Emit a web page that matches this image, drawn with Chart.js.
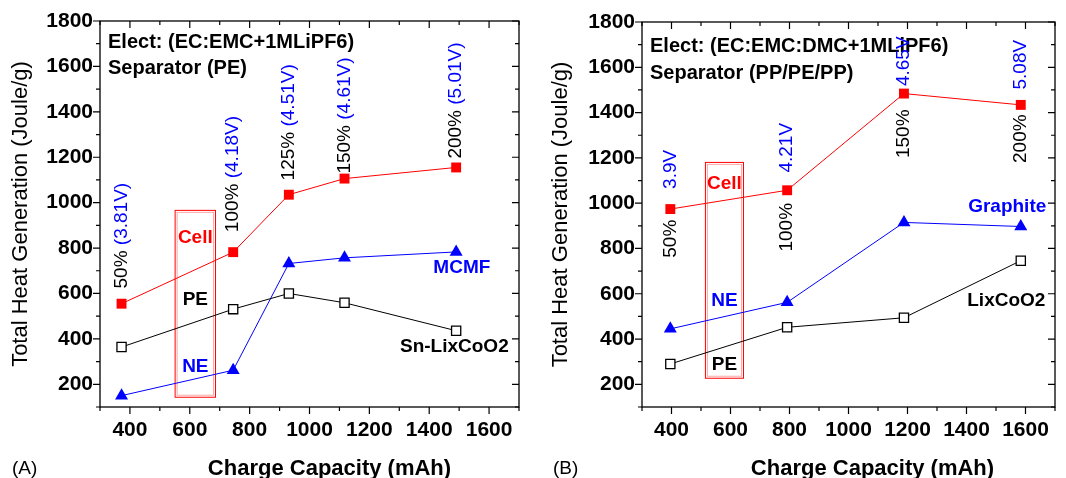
<!DOCTYPE html>
<html>
<head>
<meta charset="utf-8">
<title>Total heat generation vs charge capacity</title>
<script src="https://cdn.jsdelivr.net/npm/chart.js@4.4.1/dist/chart.umd.min.js"></script>
<style>
  html, body { margin: 0; padding: 0; background: #fff; }
  #wrap { position: relative; width: 1066px; height: 478px; overflow: hidden; }
  #chartA { position: absolute; left: 0; top: 0; }
  #chartB { position: absolute; left: 530px; top: 0; }
</style>
</head>
<body>
<div id="wrap">
  <canvas id="chartA" width="530" height="478"></canvas>
  <canvas id="chartB" width="536" height="478"></canvas>
</div>
<script>
(function () {
  "use strict";

  // ============================================================
  // Data
  // ============================================================
  const xTickLabels = [400, 600, 800, 1000, 1200, 1400, 1600];
  const yTickLabels = [200, 400, 600, 800, 1000, 1200, 1400, 1600, 1800];

  // (A) EC:EMC+1MLiPF6, PE separator
  const capacityA = [372, 745, 931, 1117, 1490];
  const cellA = [555, 782, 1035, 1106, 1155];
  const peA = [364, 531, 600, 559, 436];
  const neA = [150, 262, 732, 757, 783];
  const chargeA = ["50%", "100%", "125%", "150%", "200%"];
  const voltsA = ["(3.81V)", "(4.18V)", "(4.51V)", "(4.61V)", "(5.01V)"];

  // (B) EC:EMC:DMC+1MLiPF6, PP/PE/PP separator
  const capacityB = [396, 792, 1188, 1584];
  const cellB = [974, 1057, 1484, 1434];
  const neB = [445, 562, 915, 897];
  const peB = [290, 452, 494, 746];
  const chargeB = ["50%", "100%", "150%", "200%"];
  const voltsB = ["3.9V", "4.21V", "4.65V", "5.08V"];

  const RED = "#ff0000", BLUE = "#0000ff", BLACK = "#000000";
  const FONT = "'Liberation Sans', Arial, Helvetica, sans-serif";

  // where the rotated labels start / end (axis units)
  const startA = [622, 870, 1098, 1128, 1194];
  const voltStartB = [1063, 1135, 1517, 1502];
  const chargeEndB = [927, 1001, 1414, 1392];

  const rotatedA = capacityA.map((c, i) => ({
    x: c, y: startA[i], align: "start",
    parts: [[chargeA[i] + " ", BLACK], [voltsA[i], BLUE]]
  }));
  const rotatedB = [];
  capacityB.forEach((c, i) => {
    rotatedB.push({ x: c, y: voltStartB[i], align: "start", parts: [[voltsB[i], BLUE]] });
    rotatedB.push({ x: c, y: chargeEndB[i], align: "end", parts: [[chargeB[i], BLACK]] });
  });

  makePanel("chartA", {
    tag: "(A)", tagX: 12,
    pad: { left: 8, right: 10, top: 21, bottom: 0 },
    yWidth: 92,
    titleDx: 20,
    header: [["Elect: (EC:EMC+1MLiPF6)", 27], ["Separator (PE)", 53]],
    capacity: capacityA,
    cell: cellA, pe: peA, ne: neA,
    box: [551, 686, 143, 966],
    boxText: [["Cell", RED, 847], ["PE", BLACK, 571], ["NE", BLUE, 278]],
    tags: [["MCMF", BLUE, 1509, 715], ["Sn-LixCoO2", BLACK, 1484, 365]],
    rotated: rotatedA
  });

  makePanel("chartB", {
    tag: "(B)", tagX: 23,
    pad: { left: 18, right: 1, top: 22, bottom: 0 },
    yWidth: 94,
    titleDx: 24,
    header: [["Elect: (EC:EMC:DMC+1MLiPF6)", 30], ["Separator (PP/PE/PP)", 57]],
    capacity: capacityB,
    cell: cellB, pe: peB, ne: neB,
    box: [515, 644, 227, 1180],
    boxText: [["Cell", RED, 1086], ["NE", BLUE, 571], ["PE", BLACK, 285]],
    tags: [["Graphite", BLUE, 1538, 982], ["LixCoO2", BLACK, 1535, 571]],
    rotated: rotatedB
  });

  // ============================================================
  // One panel = one chart
  // ============================================================
  function makePanel(id, p) {
    const canvas = document.getElementById(id);
    const pts = vals => p.capacity.map((c, i) => ({ x: c, y: vals[i] }));

    new Chart(canvas, {
      type: "line",
      data: {
        datasets: [
          {
            label: "PE", data: pts(p.pe), borderColor: BLACK, borderWidth: 1,
            pointStyle: "rect", pointRadius: 6.5, pointBorderWidth: 1.3,
            pointBackgroundColor: "#fff", pointBorderColor: BLACK
          },
          {
            label: "NE", data: pts(p.ne), borderColor: BLUE, borderWidth: 1,
            pointStyle: "triangle", pointRadius: 7.5, pointBorderWidth: 0,
            pointBackgroundColor: BLUE, pointBorderColor: BLUE
          },
          {
            label: "Cell", data: pts(p.cell), borderColor: RED, borderWidth: 1,
            pointStyle: "rect", pointRadius: 7, pointBorderWidth: 0,
            pointBackgroundColor: RED, pointBorderColor: RED
          }
        ]
      },
      options: {
        responsive: false,
        animation: false,
        devicePixelRatio: 1,
        layout: { padding: p.pad },
        plugins: { legend: { display: false }, tooltip: { enabled: false } },
        scales: {
          x: {
            type: "linear", min: 300, max: 1700,
            grid: { display: false, drawTicks: false },
            border: { display: false },
            ticks: {
              stepSize: 100, autoSkip: false, maxRotation: 0, padding: 11,
              color: BLACK, font: { family: FONT, size: 21, weight: "bold" },
              callback: v => xTickLabels.includes(v) ? String(v) : ""
            },
            afterFit(s) { s.height = 71; }
          },
          y: {
            type: "linear", min: 100, max: 1800,
            grid: { display: false, drawTicks: false },
            border: { display: false },
            ticks: {
              stepSize: 100, autoSkip: false, padding: 7,
              color: BLACK, font: { family: FONT, size: 21, weight: "bold" },
              callback: v => yTickLabels.includes(v) ? String(v) : ""
            },
            title: {
              display: true, text: "Total Heat Generation (Joule/g)", color: BLACK,
              font: { family: FONT, size: 22 }, padding: 0
            },
            afterFit(s) { s.width = p.yWidth; }
          }
        }
      },
      plugins: [{
        id: "decor",
        beforeDatasetsDraw(chart) { drawBox(chart, p); },
        afterDraw(chart) {
          drawFrame(chart);
          drawTexts(chart, p);
        }
      }]
    });
  }

  // -----------------------------
  // frame + mirrored ticks
  // -----------------------------
  function drawFrame(chart) {
    const { ctx, chartArea: a, scales: { x, y } } = chart;
    ctx.save();
    ctx.strokeStyle = BLACK;
    ctx.lineWidth = 1.3;
    ctx.strokeRect(a.left, a.top, a.right - a.left, a.bottom - a.top);
    ctx.lineWidth = 1.2;
    ctx.beginPath();
    x.ticks.forEach(t => {
      const px = x.getPixelForValue(t.value);
      const len = xTickLabels.includes(t.value) ? 7 : 4;
      ctx.moveTo(px, a.bottom); ctx.lineTo(px, a.bottom + len);
      ctx.moveTo(px, a.top); ctx.lineTo(px, a.top + len);
    });
    y.ticks.forEach(t => {
      const py = y.getPixelForValue(t.value);
      const len = yTickLabels.includes(t.value) ? 7 : 4;
      ctx.moveTo(a.left, py); ctx.lineTo(a.left - len, py);
      ctx.moveTo(a.right, py); ctx.lineTo(a.right - len, py);
    });
    ctx.stroke();
    ctx.restore();
  }

  // -----------------------------
  // red box around the legend words
  // -----------------------------
  function drawBox(chart, p) {
    const { ctx, scales: { x, y } } = chart;
    const x1 = x.getPixelForValue(p.box[0]), x2 = x.getPixelForValue(p.box[1]);
    const y1 = y.getPixelForValue(p.box[3]), y2 = y.getPixelForValue(p.box[2]);
    ctx.save();
    ctx.strokeStyle = "rgba(255,0,0,0.35)";
    ctx.lineWidth = 1;
    ctx.strokeRect(x1 + 2, y1 + 2, x2 - x1 - 4, y2 - y1 - 4);
    ctx.strokeStyle = RED;
    ctx.strokeRect(x1, y1, x2 - x1, y2 - y1);
    ctx.restore();
  }

  // -----------------------------
  // all the annotation text
  // -----------------------------
  function drawTexts(chart, p) {
    const { ctx, chartArea: a, scales: { x, y } } = chart;
    ctx.save();
    ctx.textBaseline = "alphabetic";

    // header
    ctx.font = "bold 20px " + FONT;
    ctx.fillStyle = BLACK;
    ctx.textAlign = "left";
    p.header.forEach(([t, dy]) => ctx.fillText(t, a.left + 8, a.top + dy));

    // labels in the box and next to the curves
    ctx.font = "bold 19px " + FONT;
    ctx.textAlign = "center";
    ctx.textBaseline = "middle";
    const bx = (p.box[0] + p.box[1]) / 2;
    p.boxText.forEach(([t, col, v]) => {
      ctx.fillStyle = col;
      ctx.fillText(t, x.getPixelForValue(bx), y.getPixelForValue(v));
    });
    p.tags.forEach(([t, col, xv, yv]) => {
      ctx.fillStyle = col;
      ctx.fillText(t, x.getPixelForValue(xv), y.getPixelForValue(yv));
    });

    // rotated charge / voltage labels
    ctx.font = "19px " + FONT;
    ctx.textAlign = "left";
    p.rotated.forEach(r => {
      const w = r.parts.reduce((s, pt) => s + ctx.measureText(pt[0]).width, 0);
      let cur = r.align === "end" ? -w : 0;
      ctx.save();
      ctx.translate(x.getPixelForValue(r.x), y.getPixelForValue(r.y));
      ctx.rotate(-Math.PI / 2);
      r.parts.forEach(([t, col]) => {
        ctx.fillStyle = col;
        ctx.fillText(t, cur, 0);
        cur += ctx.measureText(t).width;
      });
      ctx.restore();
    });

    // x title + panel tag
    ctx.textBaseline = "alphabetic";
    ctx.fillStyle = BLACK;
    ctx.font = "bold 22px " + FONT;
    ctx.textAlign = "center";
    ctx.fillText("Charge Capacity (mAh)", (a.left + a.right) / 2 + p.titleDx, 475);
    ctx.font = "19px " + FONT;
    ctx.textAlign = "left";
    ctx.fillText(p.tag, p.tagX, 474);
    ctx.restore();
  }
})();
</script>
</body>
</html>
